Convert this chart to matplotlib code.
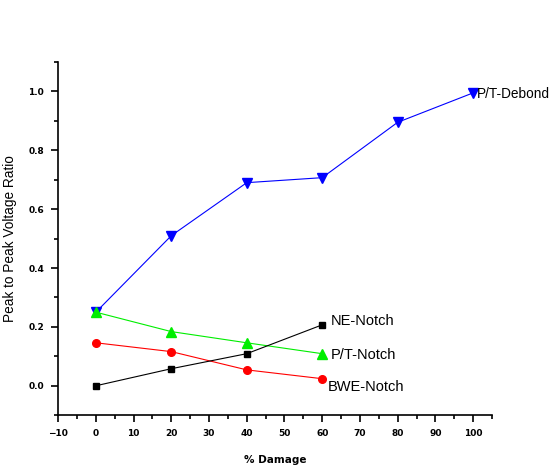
import matplotlib
matplotlib.use("Agg")
import matplotlib.pyplot as plt
from matplotlib.ticker import MultipleLocator

# data
damage_debond = [0, 20, 40, 60, 80, 100]
pt_debond = [0.25, 0.51, 0.69, 0.707, 0.895, 0.995]

damage_notch = [0, 20, 40, 60]
pt_notch = [0.25, 0.184, 0.146, 0.109]
bwe_notch = [0.146, 0.116, 0.054, 0.024]
ne_notch = [0.0, 0.058, 0.109, 0.207]

fig = plt.figure(figsize=(5.54, 4.66), dpi=100)
ax = fig.add_axes([0.105, 0.109, 0.783, 0.758])

ax.plot(damage_debond, pt_debond, color="blue", lw=0.8, marker="v", ms=6.5)
ax.plot(damage_notch, pt_notch, color="#00ee00", lw=0.8, marker="^", ms=6.5)
ax.plot(damage_notch, bwe_notch, color="red", lw=0.8, marker="o", ms=5.5)
ax.plot(damage_notch, ne_notch, color="black", lw=0.8, marker="s", ms=5)

lab = dict(fontsize=10.5, family="Liberation Sans", va="center", ha="left",
           textcoords="offset points", annotation_clip=False)
ax.annotate("P/T-Debond", (damage_debond[-1], pt_debond[-1]), xytext=(3, -1),
            **{**lab, "fontsize": 9.8})
ax.annotate("NE-Notch", (damage_notch[-1], ne_notch[-1]), xytext=(6, 3), **lab)
ax.annotate("P/T-Notch", (damage_notch[-1], pt_notch[-1]), xytext=(6, -1), **lab)
ax.annotate("BWE-Notch", (damage_notch[-1], bwe_notch[-1]), xytext=(4, -6), **lab)

ax.set_xlim(-10, 105)
ax.set_ylim(-0.1, 1.1)
ax.xaxis.set_minor_locator(MultipleLocator(5))
ax.yaxis.set_minor_locator(MultipleLocator(0.1))
ax.set_xticks(range(-10, 101, 10))
ax.set_yticks([0.0, 0.2, 0.4, 0.6, 0.8, 1.0])
ax.set_yticklabels(["0.0", "0.2", "0.4", "0.6", "0.8", "1.0"])

ax.spines["top"].set_visible(False)
ax.spines["right"].set_visible(False)
for s in ("left", "bottom"):
    ax.spines[s].set_linewidth(1.2)
ax.tick_params(which="major", direction="out", length=5, width=1.2, labelsize=6.5, pad=5)
ax.tick_params(which="minor", direction="out", length=3, width=1.2)
for t in ax.get_xticklabels() + ax.get_yticklabels():
    t.set_fontweight("bold")

ax.set_xlabel("% Damage", fontsize=7.5, fontweight="bold", labelpad=12)
ax.set_ylabel("Peak to Peak Voltage Ratio", fontsize=9.8, family="Liberation Sans", labelpad=8)

fig.savefig("out.png", dpi=100)
